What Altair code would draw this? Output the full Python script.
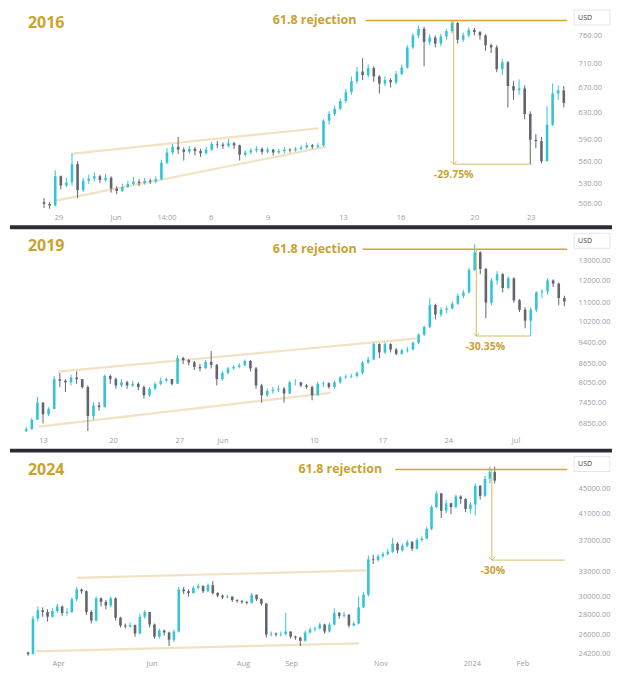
import json
import altair as alt
import pandas as pd

# ---------------- data: 2016 panel ----------------
p1_first_open = 507
p1_close = [505, 503, 540, 528, 532, 556, 522, 534, 537, 540,
            535, 538, 524, 521, 526, 530, 533, 531, 534, 533,
            536, 558, 572, 580, 576, 573, 577, 574, 571, 576,
            584, 583, 581, 585, 582, 569, 572, 575, 577, 573,
            576, 572, 574, 576, 575, 577, 579, 582, 580, 582,
            618, 628, 636, 648, 662, 680, 696, 690, 702, 688,
            676, 682, 678, 692, 703, 738, 760, 772, 748, 756,
            745, 758, 768, 783, 752, 760, 770, 766, 760, 742,
            738, 700, 712, 672, 665, 668, 628, 590, 588, 560,
            612, 660, 665, 645]
p1_high = [512, 507, 548, 541, 538, 571, 560, 538, 542, 545,
           542, 543, 540, 527, 530, 534, 539, 536, 538, 537,
           540, 562, 578, 584, 594, 579, 581, 580, 577, 580,
           587, 588, 586, 591, 587, 583, 575, 578, 581, 579,
           579, 577, 577, 580, 578, 580, 582, 586, 584, 585,
           620, 632, 641, 652, 668, 688, 704, 719, 708, 705,
           690, 688, 685, 697, 708, 742, 764, 778, 776, 762,
           760, 763, 772, 788, 785, 765, 775, 774, 768, 762,
           745, 742, 718, 714, 680, 683, 673, 632, 598, 594,
           640, 676, 673, 672]
p1_low = [500, 499, 502, 523, 526, 528, 512, 520, 530, 533,
          531, 533, 519, 517, 520, 525, 528, 527, 529, 530,
          531, 535, 556, 569, 570, 561, 570, 568, 566, 569,
          574, 578, 577, 579, 577, 561, 566, 570, 572, 569,
          571, 568, 570, 571, 572, 573, 575, 577, 577, 578,
          580, 612, 625, 634, 645, 658, 676, 682, 686, 679,
          660, 672, 670, 675, 690, 701, 735, 755, 705, 742,
          738, 740, 752, 764, 745, 748, 756, 760, 752, 732,
          728, 695, 690, 638, 650, 658, 620, 556, 578, 557,
          560, 610, 650, 638]
p1_xticks = [2.6, 12.8, 21.9, 29.8, 40, 53.5, 63.8, 77, 87.1]
p1_xlabels = ["29", "Jun", "14:00", "6", "9", "13", "16", "20", "23"]
p1_yticks = [506, 530, 560, 590, 630, 670, 710, 760]

# ---------------- data: 2019 panel ----------------
p2_first_open = 6650
p2_close = [6700, 6950, 7430, 7100, 7250, 8150, 8100, 8050, 8200, 8150,
            7900, 7050, 7350, 7300, 8250, 8150, 7950, 8050, 7950, 8000,
            7900, 7650, 7850, 8000, 8100, 8150, 8000, 8850, 8780, 8700,
            8550, 8500, 8720, 8620, 8150, 8350, 8500, 8550, 8600, 8750,
            8500, 7950, 7650, 7780, 7820, 7850, 7700, 8050, 8050, 7950,
            7900, 7650, 8000, 8020, 7900, 8050, 8200, 8230, 8250, 8350,
            8700, 8800, 9350, 9050, 9350, 9150, 9000, 9120, 9150, 9400,
            9700, 10000, 10900, 10500, 10700, 10750, 10950, 11300, 11450, 12500,
            13400, 12550, 11000, 12000, 12300, 11650, 12100, 11100, 10700, 10250,
            10700, 11450, 11500, 12000, 11850, 11200, 11050]
p2_high = [6760, 7000, 7600, 7450, 7300, 8250, 8350, 8150, 8300, 8400,
           8150, 7950, 7450, 7450, 8300, 8300, 8200, 8150, 8100, 8100,
           8050, 7950, 7900, 8050, 8200, 8200, 8150, 8950, 8900, 8820,
           8750, 8650, 8780, 9100, 8650, 8400, 8550, 8600, 8680, 8800,
           8780, 8550, 8000, 7850, 7900, 7950, 7900, 8100, 8150, 8050,
           8000, 7950, 8060, 8080, 8050, 8100, 8250, 8300, 8320, 8400,
           8750, 8900, 9400, 9380, 9420, 9380, 9200, 9180, 9250, 9450,
           9750, 10050, 11200, 10950, 10800, 10850, 11050, 11400, 11550, 12600,
           13850, 13450, 12600, 12100, 12450, 12350, 12200, 12150, 11150, 10800,
           10800, 11500, 11600, 12100, 12050, 11900, 11300]
p2_low = [6620, 6680, 6950, 6850, 7050, 7250, 7900, 7750, 7950, 8000,
          7850, 6650, 6950, 7200, 7300, 8000, 7850, 7900, 7850, 7900,
          7800, 7550, 7600, 7800, 7950, 8050, 7950, 8000, 8650, 8600,
          8450, 8400, 8500, 8500, 7950, 8100, 8300, 8450, 8500, 8580,
          8400, 7850, 7430, 7600, 7700, 7750, 7430, 7700, 7950, 7900,
          7850, 7500, 7650, 7900, 7850, 7850, 8000, 8150, 8180, 8200,
          8300, 8650, 8800, 8850, 9000, 9050, 8950, 8980, 9050, 9120,
          9350, 9650, 9950, 10300, 10400, 10550, 10700, 10900, 11200, 11400,
          12450, 12300, 10350, 10900, 11800, 11450, 11600, 11000, 10600, 9950,
          9650, 10600, 11200, 11350, 11700, 10900, 10850]
p2_xticks = [3, 15.5, 27.3, 35, 51.3, 63.5, 75.3, 87.3]
p2_xlabels = ["13", "20", "27", "Jun", "10", "17", "24", "Jul"]
p2_yticks = [6850, 7450, 8050, 8650, 9400, 10200, 11000, 12000, 13000]

# ---------------- data: 2024 panel ----------------
p3_first_open = 24300
p3_close = [24150, 27600, 28500, 28300, 27800, 28400, 28900, 28200, 28300, 29700,
            30800, 30600, 28300, 27400, 29800, 29400, 29000, 29800, 27700, 26900,
            26800, 26950, 26100, 27800, 28300, 27000, 25800, 26400, 26200, 25500,
            26300, 30800, 30600, 30400, 31000, 31200, 30600, 31300, 30400, 30100,
            29900, 30000, 29600, 29500, 29400, 29300, 30200, 29700, 29200, 26000,
            26100, 26000, 26050, 26300, 25800, 25700, 25400, 26200, 26500, 26600,
            27000, 26300, 27000, 28200, 27900, 28000, 26900, 27100, 28800, 30200,
            34500, 34400, 34900, 35200, 35500, 36600, 35700, 36300, 36800, 35900,
            37100, 37300, 38700, 42000, 44200, 41400, 42600, 42000, 43700, 43300,
            41700, 42400, 45500, 43800, 46700, 47900, 46400]
p3_high = [24400, 27900, 28900, 28800, 28600, 28700, 29200, 29000, 28700, 29900,
           31100, 30900, 30700, 28500, 30000, 29900, 29600, 30000, 29900, 27800,
           27100, 27200, 27000, 28100, 28500, 28300, 27100, 26600, 26500, 26300,
           26500, 31100, 31100, 30800, 31200, 31500, 31300, 31500, 31800, 30500,
           30200, 30200, 30000, 29700, 29600, 29500, 30400, 30200, 29800, 29300,
           26300, 26200, 26300, 28200, 26300, 25900, 25800, 26400, 26700, 26800,
           27200, 27100, 27200, 28700, 28300, 28300, 28100, 27300, 30000, 30500,
           35000, 35100, 35200, 35500, 35900, 37400, 36800, 36600, 37100, 37000,
           37400, 37600, 39000, 42300, 44600, 44300, 43200, 42700, 44000, 43900,
           43400, 42800, 45900, 45600, 47200, 48900, 48900]
p3_low = [24000, 24200, 27300, 27800, 27300, 27700, 28200, 27900, 27900, 28200,
          29500, 30300, 28000, 27100, 27300, 28900, 28600, 28800, 27400, 26700,
          26600, 26700, 25800, 26000, 27600, 26700, 25600, 25600, 25900, 24900,
          25300, 26200, 30300, 30000, 30300, 30800, 30400, 30500, 30200, 29900,
          29700, 29800, 29400, 29300, 29200, 29100, 29200, 29500, 29000, 25700,
          25800, 25800, 25800, 25900, 25600, 25500, 24900, 25300, 26100, 26300,
          26500, 26100, 26200, 26900, 27600, 27700, 26700, 26800, 27000, 28700,
          30000, 33900, 34200, 34700, 35000, 35300, 35300, 35500, 36100, 35600,
          35800, 36900, 37200, 38500, 41800, 40300, 41000, 40900, 41800, 42500,
          41200, 41000, 40700, 43200, 43600, 45900, 45900]
p3_xticks = [6.2, 25.4, 44.2, 54.1, 72.5, 91.3, 101.7]
p3_xlabels = ["Apr", "Jun", "Aug", "Sep", "Nov", "2024", "Feb"]
p3_yticks = [24200, 26000, 28000, 30000, 33000, 37000, 41000, 45000]

# annotation values: [rejection price, line start, arrow index, target price, target end, pct label x]
p1_annot = [788, 57.5, 73.3, 556, 87.3, 73.3]
p2_annot = [13560, 60, 80.3, 9650, 89.9, 81.9]
p3_annot = [48380, 75.5, 95.4, 34400, 110.4, 95.6]
# channel lines: [x start, price start, x end, price end]
p1_upper = [5.1, 570.5, 49.1, 606.6]
p1_lower = [2.1, 509, 50.5, 580]
p2_upper = [5.7, 8392, 69.7, 9560]
p2_lower = [2.3, 6765, 54.3, 7724]
p3_upper = [10, 32170, 69.6, 33100]
p3_lower = [1.5, 24400, 68.1, 25160]

W, H = 564, 202
CYAN = "#33c5d5"
GRAY = "#62656f"
GOLD = "#c9a230"
LINE = "#d1a62c"
ARROW = "#d6bd68"
CHAN = "#f2e1c2"
AXC = "#9a9da6"
FONT = "Open Sans"


def candles(first_open, closes, highs, lows):
    opens = [first_open] + closes[:-1]
    rows = []
    for i, (o, c, h, l) in enumerate(zip(opens, closes, highs, lows)):
        rows.append(dict(x=i, o=o, c=c, h=max(h, o, c), l=min(l, o, c),
                         d="up" if c >= o else "down"))
    return pd.DataFrame(rows)


def panel(df, xdom, ydom, yticks, xpos, xlab, year, annot, pct, rej_dx,
          upper, lower, sep):
    xs = alt.Scale(domain=xdom, nice=False, zero=False)
    ys = alt.Scale(type="log", domain=ydom, nice=False)
    label_expr = f"{json.dumps(xlab)}[indexof({json.dumps(xpos)}, datum.value)]"
    xax = alt.Axis(values=xpos, labelExpr=label_expr, title=None, ticks=False,
                   domain=False, grid=False, labelFontSize=7.5, labelColor=AXC,
                   labelPadding=3, labelFlush=False, labelOverlap=False, labelFont=FONT)
    yax = alt.Axis(orient="right", values=yticks, format=".2f", title=None,
                   ticks=False, domain=False, grid=False, labelFontSize=7.5,
                   labelColor=AXC, labelPadding=6, labelFlush=False,
                   labelOverlap=False, labelFont=FONT)

    def X(f="x"):
        return alt.X(f, type="quantitative", scale=xs, axis=xax)

    def Y(f="y"):
        return alt.Y(f, type="quantitative", scale=ys, axis=yax)

    color = alt.Color("d:N", scale=alt.Scale(domain=["up", "down"], range=[CYAN, GRAY]),
                      legend=None)

    chan_df = pd.DataFrame({"x": [upper[0], lower[0]], "y": [upper[1], lower[1]],
                            "x2": [upper[2], lower[2]], "y2": [upper[3], lower[3]]})
    chan = alt.Chart(chan_df).mark_rule(color=CHAN, strokeWidth=2.2).encode(
        x=X("x"), x2="x2", y=Y("y"), y2="y2")

    wick = alt.Chart(df).mark_rule(strokeWidth=1).encode(x=X("x"), y=Y("l"), y2="h", color=color)
    body = alt.Chart(df).mark_bar(size=2.6).encode(x=X("x"), y=Y("o"), y2="c", color=color)

    rej_p, rej_x, arr_x, tgt, tgt_end, pct_x = annot
    rej_df = pd.DataFrame({"x": [rej_x], "x2": [xdom[1]], "y": [rej_p]})
    rej_line = alt.Chart(rej_df).mark_rule(color=LINE, strokeWidth=1.6).encode(
        x=X("x"), x2="x2", y=Y("y"))
    rej_text = alt.Chart(pd.DataFrame({"x": [rej_x], "y": [rej_p], "t": ["61.8 rejection"]})).mark_text(
        align="right", baseline="middle", dx=rej_dx, fontSize=12.5, fontWeight="bold",
        color=GOLD, font=FONT).encode(x=X("x"), y=Y("y"), text="t:N")

    v_df = pd.DataFrame({"x": [arr_x], "y": [rej_p], "y2": [tgt]})
    v_line = alt.Chart(v_df).mark_rule(color=ARROW, strokeWidth=1).encode(
        x=X("x"), y=Y("y"), y2="y2")
    h_df = pd.DataFrame({"x": [arr_x], "x2": [tgt_end], "y": [tgt]})
    h_line = alt.Chart(h_df).mark_rule(color=ARROW, strokeWidth=1).encode(
        x=X("x"), x2="x2", y=Y("y"))
    head = alt.Chart(pd.DataFrame({"x": [arr_x], "y": [tgt]})).mark_point(
        shape="M-1,-1L0,0L1,-1", filled=False, size=36, strokeWidth=1, color=ARROW,
        opacity=1).encode(x=X("x"), y=Y("y"))
    pct_text = alt.Chart(pd.DataFrame({"x": [pct_x], "y": [tgt], "t": [pct]})).mark_text(
        align="center", baseline="middle", dy=11, fontSize=10.5, fontWeight="bold",
        color=GOLD, font=FONT).encode(x=X("x"), y=Y("y"), text="t:N")

    year_text = alt.Chart(pd.DataFrame({"t": [year]})).mark_text(
        align="left", baseline="middle", fontSize=16, fontWeight="bold", color=GOLD,
        font=FONT).encode(x=alt.value(18), y=alt.value(14), text="t:N")

    usd_box = alt.Chart(pd.DataFrame({"t": ["USD"]})).mark_rect(
        fill="white", stroke="#e3e5ea", strokeWidth=1).encode(
        x=alt.value(W + 2), x2=alt.value(W + 38), y=alt.value(1), y2=alt.value(16))
    usd_text = alt.Chart(pd.DataFrame({"t": ["USD"]})).mark_text(
        align="left", baseline="middle", fontSize=7, color="#3a3d45", font=FONT).encode(
        x=alt.value(W + 6), y=alt.value(8.5), text="t:N")

    layers = [chan, wick, body, rej_line, rej_text, v_line, h_line, head, pct_text,
              year_text, usd_box, usd_text]
    if sep:
        sep_rule = alt.Chart(pd.DataFrame({"t": [0]})).mark_rule(
            color="#2b2d33", strokeWidth=4).encode(
            x=alt.value(0), x2=alt.value(W + 40), y=alt.value(H + 17))
        layers.append(sep_rule)
    return alt.layer(*layers).properties(width=W, height=H)


df1 = candles(p1_first_open, p1_close, p1_high, p1_low)
df2 = candles(p2_first_open, p2_close, p2_high, p2_low)
df3 = candles(p3_first_open, p3_close, p3_high, p3_low)

c1 = panel(df1, [-5.2, 93.6], [497, 810], p1_yticks, p1_xticks, p1_xlabels, "2016",
           p1_annot, "-29.75%", -9, p1_upper, p1_lower, True)
c2 = panel(df2, [-2, 96.5], [6580, 14490], p2_yticks, p2_xticks, p2_xlabels, "2019",
           p2_annot, "-30.35%", -6, p2_upper, p2_lower, True)
c3 = panel(df3, [-2.7, 110.9], [23900, 50960], p3_yticks, p3_xticks, p3_xlabels, "2024",
           p3_annot, "-30%", -13, p3_upper, p3_lower, False)

chart = alt.vconcat(c1, c2, c3, spacing=3).properties(
    padding=0, background="white").configure_view(stroke=None)

chart.save("out.html", embed_options={"renderer": "svg", "actions": False})
